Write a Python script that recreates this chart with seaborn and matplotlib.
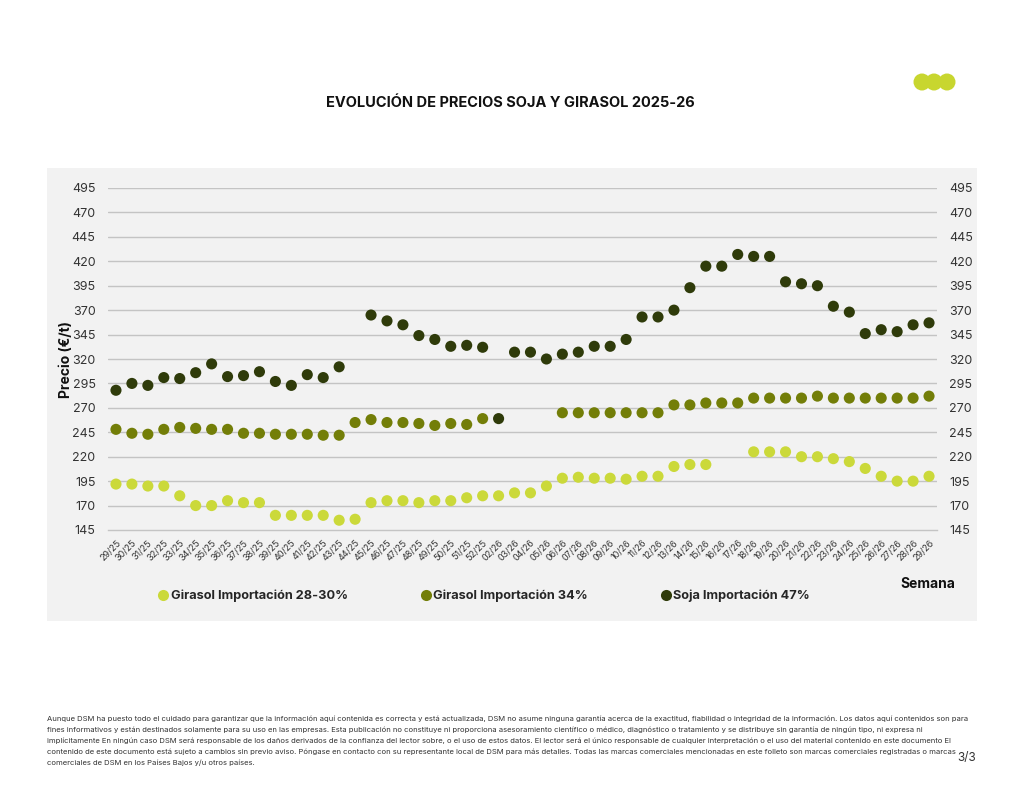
import numpy as np
import pandas as pd
import matplotlib
matplotlib.use("Agg")
import matplotlib.pyplot as plt
from matplotlib.patches import Rectangle, Ellipse
from matplotlib.lines import Line2D
import seaborn as sns

weeks = [f"{w:02d}/25" for w in range(29, 53)] + [f"{w:02d}/26" for w in range(2, 30)]

girasol_28_30 = [192, 192, 190, 190, 180, 170, 170, 175, 173, 173, 160, 160, 160, 160, 155, 156,
                 173, 175, 175, 173, 175, 175, 178, 180,
                 180, 183, 183, 190, 198, 199, 198, 198, 197, 200, 200, 210, 212, 212, np.nan, np.nan,
                 225, 225, 225, 220, 220, 218, 215, 208, 200, 195, 195, 200]
girasol_34 = [248, 244, 243, 248, 250, 249, 248, 248, 244, 244, 243, 243, 243, 242, 242, 255,
              258, 255, 255, 254, 252, 254, 253, 259,
              np.nan, np.nan, np.nan, np.nan, 265, 265, 265, 265, 265, 265, 265, 273, 273, 275, 275, 275,
              280, 280, 280, 280, 282, 280, 280, 280, 280, 280, 280, 282]
soja_47 = [288, 295, 293, 301, 300, 306, 315, 302, 303, 307, 297, 293, 304, 301, 312, np.nan,
           365, 359, 355, 344, 340, 333, 334, 332,
           259, 327, 327, 320, 325, 327, 333, 333, 340, 363, 363, 370, 393, 415, 415, 427,
           425, 425, 399, 397, 395, 374, 368, 346, 350, 348, 355, 357]

series_names = ["Girasol Importación 28-30%", "Girasol Importación 34%", "Soja Importación 47%"]
colors = ["#cbd93a", "#737e08", "#2f3b0a"]
y_ticks = list(range(145, 496, 25))

rows = []
for name, vals in zip(series_names, [girasol_28_30, girasol_34, soja_47]):
    for i, v in enumerate(vals):
        rows.append({"idx": i, "semana": weeks[i], "precio": v, "serie": name})
df = pd.DataFrame(rows).dropna()

sns.set_style("white")
FONT = ["Inter", "DejaVu Sans"]
plt.rcParams["font.family"] = FONT

fig = plt.figure(figsize=(10.24, 7.91), dpi=100)
fig.patch.set_facecolor("white")

# gray panel
fig.patches.append(Rectangle((47 / 1024, 1 - 621 / 791), 930 / 1024, 453 / 791,
                             transform=fig.transFigure, facecolor="#f2f2f2",
                             edgecolor="none", zorder=-5))

ax = fig.add_axes([108 / 1024, 1 - 530 / 791, 829 / 1024, 342 / 791])
ax.set_facecolor("none")
ax.set_zorder(2)

for y in y_ticks[1:]:
    ax.axhline(y, color="#c4c4c4", lw=1.0, zorder=1)

sns.scatterplot(data=df, x="idx", y="precio", hue="serie", hue_order=series_names,
                palette=colors, s=64, linewidth=0, legend=False, ax=ax, zorder=3)

ax.set_xlim(-0.5, len(weeks) - 0.5)
ax.set_ylim(145, 495)
ax.set_yticks(y_ticks)
ax.set_yticklabels([str(t) for t in y_ticks])
ax.tick_params(axis="y", length=0, labelsize=9, labelcolor="#333333", pad=9,
               labelleft=True, labelright=True)
ax.set_xticks(range(len(weeks)))
ax.set_xticklabels(weeks, rotation=45, ha="right", rotation_mode="anchor",
                   fontsize=6.5, color="#333333")
ax.tick_params(axis="x", length=3, color="#bbbbbb", width=0.8, pad=3)
for s in ["top", "left", "right"]:
    ax.spines[s].set_visible(False)
ax.spines["bottom"].set_color("#c4c4c4")
ax.spines["bottom"].set_linewidth(1.0)
ax.set_xlabel("")
ax.set_ylabel("Precio (€/t)", fontsize=10, fontweight="bold", color="#111111", labelpad=-1)

fig.text(928 / 1024, 1 - 584 / 791, "Semana", fontsize=10, fontweight="bold",
         ha="center", va="center", color="#111111")

handles = [Line2D([], [], marker="o", linestyle="none", markersize=8,
                  markerfacecolor=c, markeredgecolor="none") for c in colors]
fig.legend(handles, series_names, ncol=3, loc="center left",
           bbox_to_anchor=(145 / 1024, 1 - 596 / 791), frameon=False,
           prop={"family": FONT, "weight": "bold", "size": 9.2},
           handletextpad=0.1, columnspacing=5.6, handlelength=1.0)

fig.text(510 / 1024, 1 - 103 / 791, "EVOLUCIÓN DE PRECIOS SOJA Y GIRASOL 2025-26",
         fontsize=10.5, fontweight="bold", ha="center", va="center", color="#111111")

# logo dots
for cx in [922, 934, 947]:
    fig.patches.append(Ellipse((cx / 1024, 1 - 82 / 791), 17 / 1024, 17 / 791,
                               transform=fig.transFigure, facecolor="#c8d62f",
                               edgecolor="none"))

footer = [
    "Aunque DSM ha puesto todo el cuidado para garantizar que la información aquí contenida es correcta y está actualizada, DSM no asume ninguna garantía acerca de la exactitud, fiabilidad o integridad de la información. Los datos aquí contenidos son para",
    "fines informativos y están destinados solamente para su uso en las empresas. Esta publicación no constituye ni proporciona asesoramiento científico o médico, diagnóstico o tratamiento y se distribuye sin garantía de ningún tipo, ni expresa ni",
    "implícitamente En ningún caso DSM será responsable de los daños derivados de la confianza del lector sobre, o el uso de estos datos. El lector será el único responsable de cualquier interpretación o el uso del material contenido en este documento El",
    "contenido de este documento está sujeto a cambios sin previo aviso. Póngase en contacto con su representante local de DSM para más detalles. Todas las marcas comerciales mencionadas en este folleto son marcas comerciales registradas o marcas",
    "comerciales de DSM en los Países Bajos y/u otros países.",
]
for i, line in enumerate(footer):
    fig.text(47 / 1024, 1 - (719 + 11 * i) / 791, line, fontsize=5.5,
             ha="left", va="center", color="#333333")

fig.text(967 / 1024, 1 - 758 / 791, "3/3", fontsize=8.5, ha="center", va="center",
         color="#333333")

fig.savefig("out.png", dpi=100, facecolor="white")
